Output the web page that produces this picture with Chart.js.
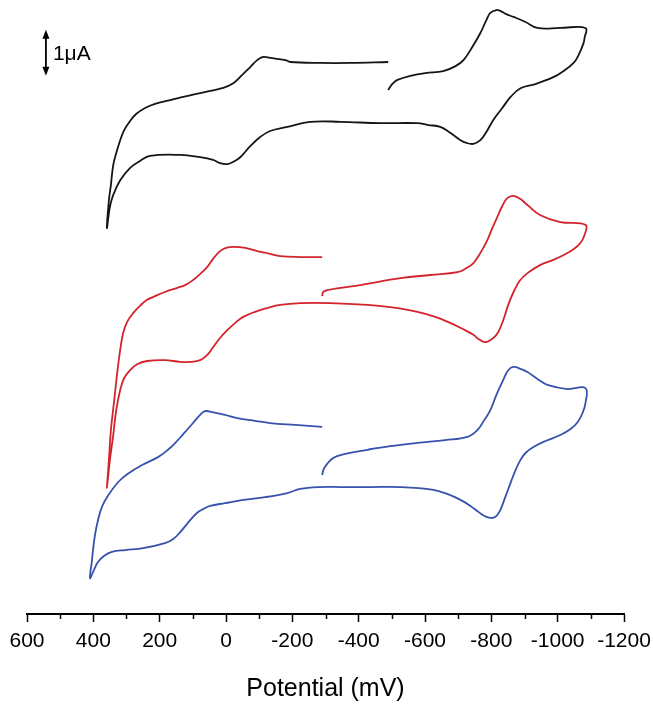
<!DOCTYPE html>
<html>
<head>
<meta charset="utf-8">
<script src="https://cdn.jsdelivr.net/npm/chart.js@4/dist/chart.umd.min.js"></script>
<style>
    html, body { margin: 0; padding: 0; background: #fff; }
    #wrap { width: 653px; height: 704px; }
</style>
</head>
<body>
<div id="wrap"><canvas id="canvas" width="653" height="704"></canvas></div>
<script>
//cyclic voltammograms, potential in mV, current in uA (each trace shifted up for display)
const blackPotential = [-489, -501, -517, -556, -601, -655, -692, -716, -743, -767, -785, -797, -815, -827, -845, -867, -903, -939, -1008, -1084,
    -1081, -1078, -1063, -1048, -1017, -987, -933, -888, -858, -833, -806, -785, -767, -746, -725, -707, -676, -646, -610, -577,
    -465, -345, -254, -185, -133, -103, -73, -43, -22, -4, 18, 39, 78, 138, 229, 259, 289, 319, 340, 350, 359,
    353, 347, 340, 328, 319, 307, 289, 271, 244, 214, 168, 129, 93, 48, 12, -22, -49, -73, -94, -112, -133, -179, -194, -284, -375, -489];
const blackCurrent = [11.39, 11.52, 11.61, 11.70, 11.76, 11.80, 11.91, 12.04, 12.33, 12.63, 12.91, 13.07, 13.13, 13.11, 13.04, 12.98, 12.87, 12.74, 12.74, 12.74,
    12.52, 12.41, 12.15, 11.98, 11.80, 11.67, 11.52, 11.43, 11.24, 11.00, 10.74, 10.48, 10.30, 10.22, 10.24, 10.30, 10.46, 10.59, 10.63, 10.67,
    10.67, 10.70, 10.70, 10.59, 10.50, 10.37, 10.17, 9.93, 9.83, 9.78, 9.80, 9.87, 9.93, 9.98, 9.96, 9.85, 9.70, 9.43, 9.11, 8.85, 8.39,
    9.00, 9.33, 9.76, 10.09, 10.30, 10.52, 10.72, 10.87, 11.00, 11.09, 11.17, 11.24, 11.30, 11.37, 11.43, 11.54, 11.72, 11.89, 12.04, 12.11, 12.09, 12.04, 12.00, 11.98, 11.98, 12.00];

const redPotential = [-290, -293, -305, -345, -405, -526, -616, -698, -725, -746, -767, -788, -803, -818, -833, -848, -867, -888, -909, -948, -1008, -1084,
    -1081, -1069, -1048, -1017, -987, -948, -909, -885, -867, -851, -836, -821, -806, -782, -761, -746, -713, -676, -631, -577, -495, -426, -314,
    -224, -163, -124, -88, -52, -28, -4, 18, 39, 57, 78, 108, 138, 184, 238, 268, 289, 307, 319, 331, 340, 350, 359,
    353, 347, 337, 328, 319, 310, 298, 280, 259, 238, 220, 184, 147, 123, 99, 78, 57, 39, 18, 0, -22, -58, -94, -133, -163, -224, -290];
const redCurrent = [6.91, 7.00, 7.04, 7.09, 7.15, 7.30, 7.37, 7.43, 7.52, 7.63, 7.85, 8.13, 8.39, 8.63, 8.87, 9.04, 9.09, 9.02, 8.89, 8.67, 8.52, 8.46,
    8.24, 8.07, 7.93, 7.80, 7.70, 7.59, 7.41, 7.24, 7.00, 6.72, 6.39, 6.13, 6.00, 5.91, 5.98, 6.07, 6.20, 6.33, 6.46, 6.57, 6.67, 6.72, 6.76,
    6.76, 6.72, 6.65, 6.57, 6.46, 6.33, 6.17, 6.00, 5.80, 5.63, 5.52, 5.48, 5.48, 5.52, 5.50, 5.43, 5.30, 5.13, 4.87, 4.43, 3.89, 3.35, 2.74,
    3.35, 4.00, 4.65, 5.24, 5.74, 6.11, 6.35, 6.54, 6.70, 6.83, 6.89, 7.00, 7.09, 7.15, 7.26, 7.39, 7.54, 7.72, 7.89, 7.96, 7.98, 7.96, 7.89, 7.83, 7.78, 7.76, 7.76];

const bluePotential = [-290, -296, -323, -360, -426, -495, -577, -661, -728, -758, -779, -797, -815, -836, -851, -867, -888, -909, -939, -969, -1030, -1084,
    -1084, -1075, -1060, -1039, -1008, -963, -927, -903, -888, -873, -858, -842, -827, -815, -803, -785, -761, -737, -707, -667, -625, -526, -435, -345, -284,
    -224, -185, -118, -52, 3, 48, 69, 87, 108, 138, 159, 184, 250, 304, 344, 368, 386, 398, 410,
    404, 401, 395, 386, 374, 356, 325, 298, 253, 205, 175, 153, 129, 102, 78, 63, 42, 3, -34, -88, -133, -209, -290];
const blueCurrent = [3.02, 3.17, 3.39, 3.48, 3.57, 3.65, 3.72, 3.78, 3.85, 4.00, 4.22, 4.43, 4.76, 5.09, 5.30, 5.37, 5.33, 5.26, 5.11, 4.98, 4.89, 4.91,
    4.59, 4.37, 4.17, 4.02, 3.89, 3.76, 3.63, 3.50, 3.35, 3.13, 2.85, 2.54, 2.26, 2.13, 2.09, 2.11, 2.22, 2.35, 2.48, 2.61, 2.70, 2.76, 2.76, 2.76, 2.76,
    2.72, 2.63, 2.54, 2.48, 2.41, 2.35, 2.28, 2.20, 2.04, 1.78, 1.63, 1.54, 1.43, 1.39, 1.35, 1.26, 1.13, 0.96, 0.78,
    1.17, 1.39, 1.72, 2.04, 2.33, 2.57, 2.87, 3.04, 3.24, 3.41, 3.57, 3.72, 3.91, 4.13, 4.33, 4.41, 4.39, 4.33, 4.26, 4.20, 4.15, 4.11, 4.07];

//axis ticks (mV), labelled ones and the small ones in between
const xMajorTicks = [600, 400, 200, 0, -200, -400, -600, -800, -1000, -1200];
const xMinorTicks = [500, 300, 100, -100, -300, -500, -700, -900, -1100];

//1 uA scale bar in the top left corner
const scaleBarPotential = 543;
const scaleBarTop = 12.70;
const scaleBarBottom = 11.70;
const scaleBarLabel = '1\u03bcA';

function toPoints(potential, current) {
    return potential.map((e, i) => ({ x: e, y: current[i] }));
}

function trace(potential, current, color) {
    return {
        data: toPoints(potential, current),
        borderColor: color,
        backgroundColor: color,
        borderWidth: 1.8,
        pointRadius: 0,
        tension: 0.4,
        fill: false
    };
}

//draws the small ticks and the scale bar
const extras = {
    id: 'extras',
    afterDraw(chart) {
        const ctx = chart.ctx;
        const xs = chart.scales.x;
        const ys = chart.scales.y;
        const bottom = chart.chartArea.bottom;
        ctx.save();
        ctx.strokeStyle = '#000';
        ctx.lineWidth = 1.5;
        xMinorTicks.forEach(v => {
            const px = Math.round(xs.getPixelForValue(v)) + 0.5;
            ctx.beginPath();
            ctx.moveTo(px, bottom);
            ctx.lineTo(px, bottom + 5);
            ctx.stroke();
        });

        const bx = xs.getPixelForValue(scaleBarPotential);
        const top = ys.getPixelForValue(scaleBarTop);
        const bot = ys.getPixelForValue(scaleBarBottom);
        ctx.fillStyle = '#000';
        ctx.lineWidth = 1.8;
        ctx.beginPath();
        ctx.moveTo(bx, top + 6);
        ctx.lineTo(bx, bot - 6);
        ctx.stroke();
        ctx.beginPath();
        ctx.moveTo(bx, top);
        ctx.lineTo(bx - 3.5, top + 9);
        ctx.lineTo(bx + 3.5, top + 9);
        ctx.closePath();
        ctx.fill();
        ctx.beginPath();
        ctx.moveTo(bx, bot);
        ctx.lineTo(bx - 3.5, bot - 9);
        ctx.lineTo(bx + 3.5, bot - 9);
        ctx.closePath();
        ctx.fill();
        ctx.font = '21px "Liberation Sans", Arial, sans-serif';
        ctx.textBaseline = 'middle';
        ctx.textAlign = 'left';
        ctx.fillText(scaleBarLabel, bx + 7, (top + bot) / 2 + 1);
        ctx.restore();
    }
};

const ctx = document.getElementById('canvas').getContext('2d');
const chart = new Chart(ctx, {
    type: 'line',
    data: {
        datasets: [
            trace(blackPotential, blackCurrent, '#151515'),
            trace(redPotential, redCurrent, '#d3232c'),
            trace(bluePotential, blueCurrent, '#3652ad')
        ]
    },
    options: {
        responsive: false,
        animation: false,
        layout: { padding: { left: 27, right: 29, top: 0, bottom: 0 } },
        plugins: {
            legend: { display: false },
            tooltip: { enabled: false }
        },
        scales: {
            x: {
                type: 'linear',
                reverse: true,
                min: -1200,
                max: 600,
                afterBuildTicks: scale => {
                    scale.ticks = xMajorTicks.map(v => ({ value: v }));
                },
                //fixed axis height, and no extra side room for the end labels
                afterFit: scale => {
                    scale.height = 90;
                    scale.paddingLeft = 0;
                    scale.paddingRight = 0;
                },
                border: { display: true, color: '#000', width: 2 },
                grid: { drawOnChartArea: false, drawTicks: true, tickLength: 8, tickWidth: 1.5, color: '#000' },
                ticks: {
                    autoSkip: false,
                    maxRotation: 0,
                    padding: 7,
                    color: '#000',
                    font: { family: '"Liberation Sans", Arial, sans-serif', size: 21 },
                    callback: v => String(v)
                },
                title: {
                    display: true,
                    text: 'Potential (mV)',
                    color: '#000',
                    padding: { top: 0, bottom: 0 },
                    font: { family: '"Liberation Sans", Arial, sans-serif', size: 25 }
                }
            },
            y: {
                type: 'linear',
                display: false,
                min: 0,
                max: 614 / 46
            }
        }
    },
    plugins: [extras]
});
</script>
</body>
</html>
